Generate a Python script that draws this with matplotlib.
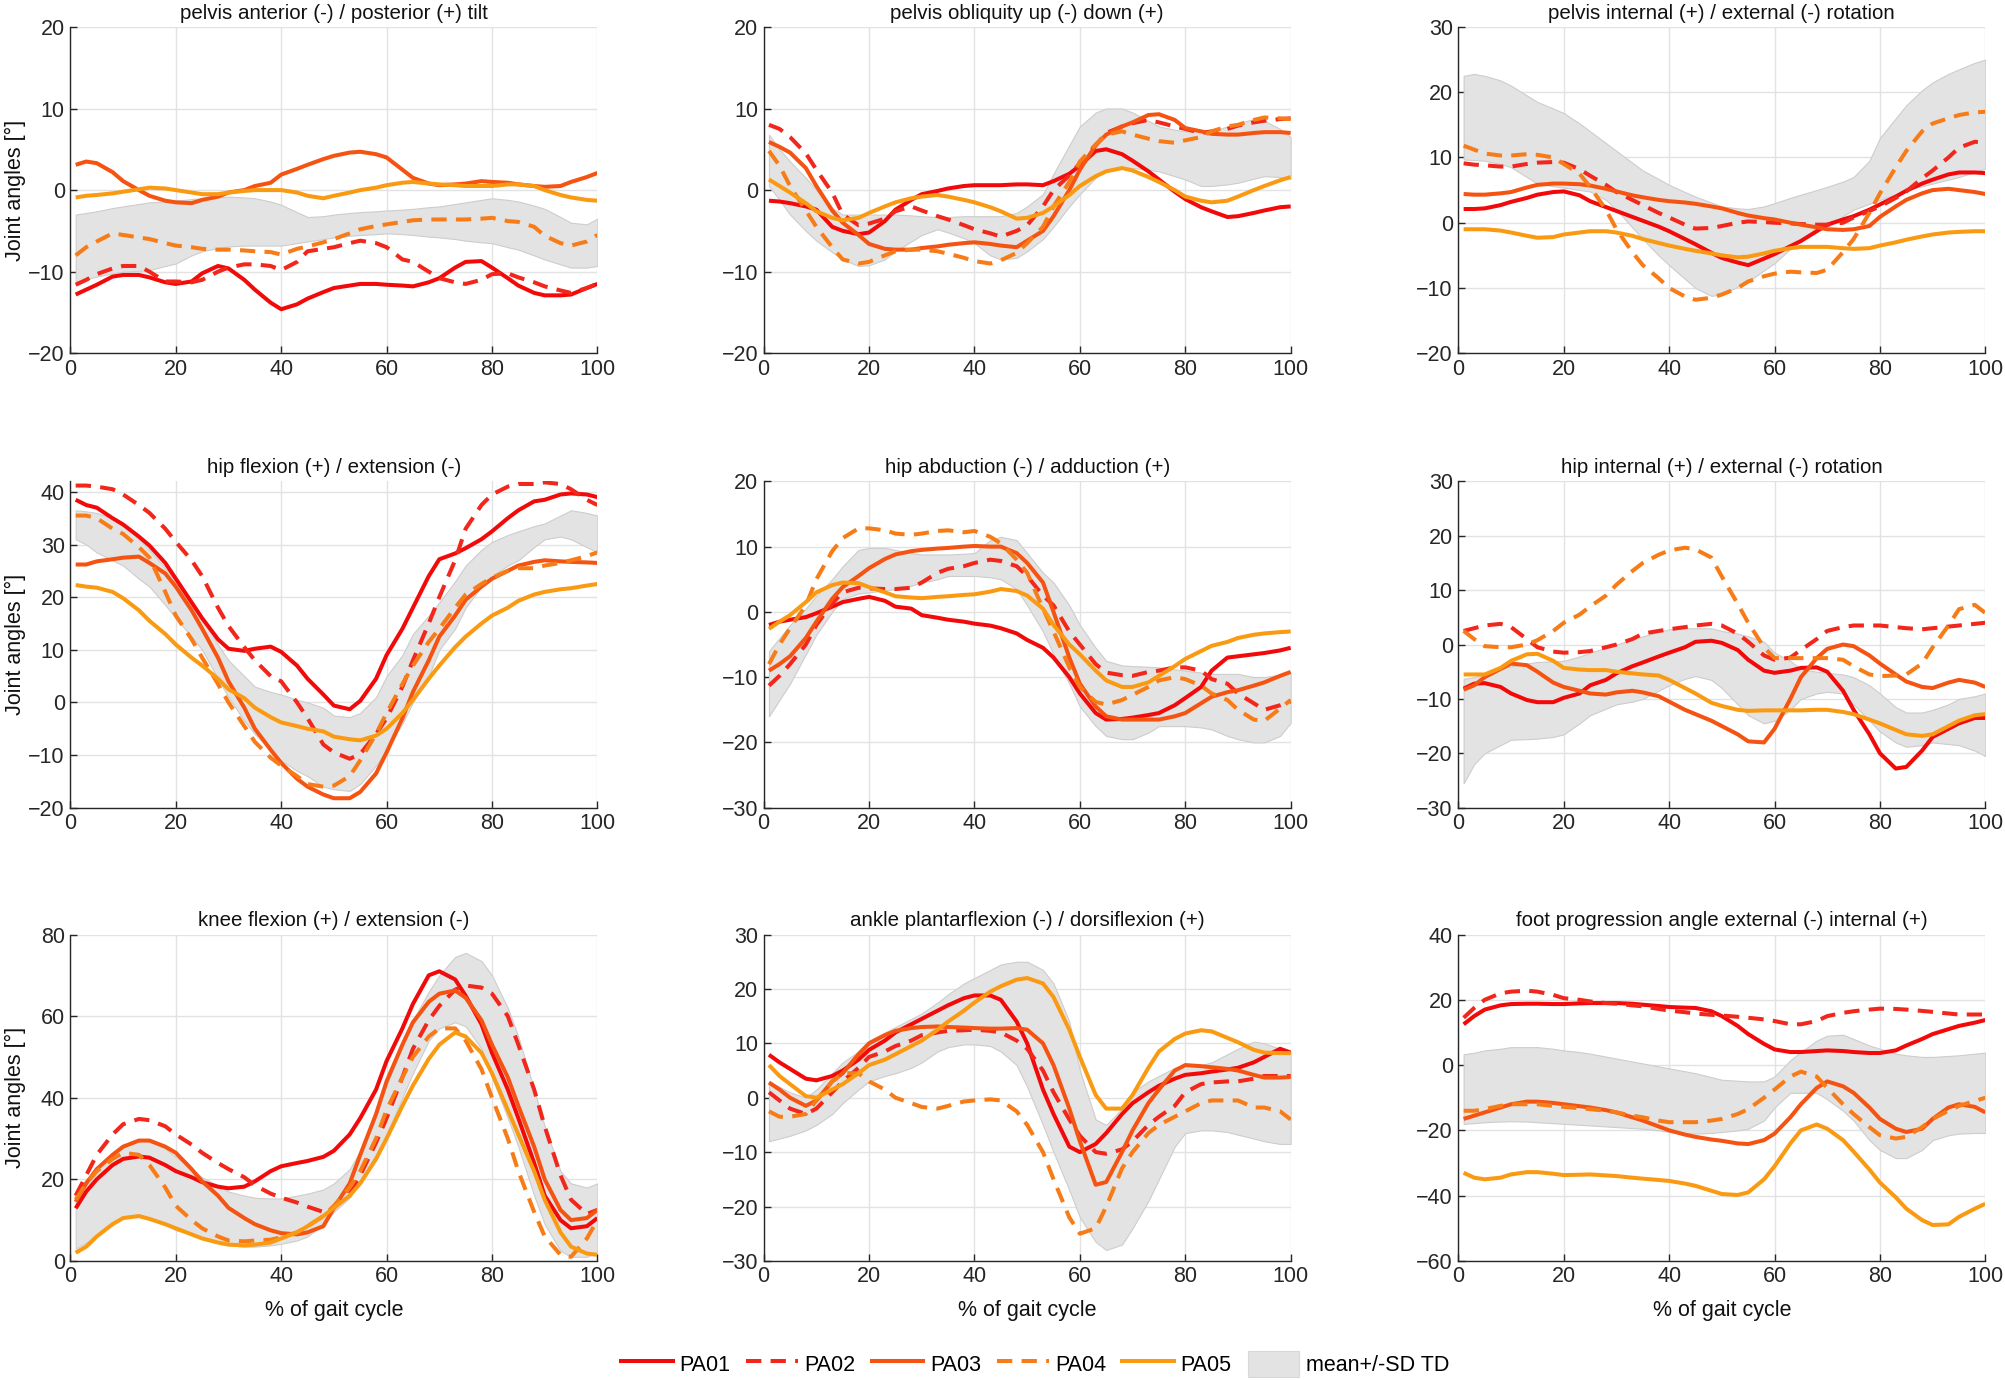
import matplotlib
matplotlib.use("Agg")
import matplotlib.pyplot as plt
from matplotlib.lines import Line2D
from matplotlib.patches import Patch

plt.rcParams['font.family'] = ['Liberation Sans', 'DejaVu Sans']

# % of gait cycle sample positions
X = [1, 3, 5, 8, 10, 13, 15, 18, 20, 23, 25, 28, 30, 33, 35, 38, 40, 43, 45, 48, 50,
     53, 55, 58, 60, 63, 65, 68, 70, 73, 75, 78, 80, 83, 85, 88, 90, 93, 95, 98, 100]

series_names = ["PA01", "PA02", "PA03", "PA04", "PA05"]
band_name = "mean+/-SD TD"

# ---- pelvis anterior / posterior tilt ----
tilt_pa01 = [-12.8,-12.2,-11.6,-10.6,-10.4,-10.4,-10.7,-11.3,-11.5,-11.2,-10.2,-9.3,-9.6,-11.0,-12.2,-13.8,-14.6,-14.0,-13.3,-12.5,-12.0,-11.7,-11.5,-11.5,-11.6,-11.7,-11.8,-11.3,-10.8,-9.5,-8.8,-8.7,-9.5,-10.8,-11.7,-12.6,-12.9,-12.9,-12.8,-12.0,-11.5]
tilt_pa02 = [-11.6,-11.0,-10.3,-9.6,-9.3,-9.3,-10.0,-11.2,-11.2,-11.3,-11.0,-10.0,-9.5,-9.1,-9.1,-9.3,-9.8,-8.8,-7.5,-7.2,-7.0,-6.5,-6.2,-6.5,-7.0,-8.5,-8.8,-10.0,-10.8,-11.3,-11.5,-11.0,-10.3,-10.2,-10.7,-11.3,-11.8,-12.3,-12.6,-12.0,-11.5]
tilt_pa03 = [3.1,3.5,3.3,2.2,1.1,0.0,-0.7,-1.3,-1.5,-1.6,-1.2,-0.8,-0.3,0.0,0.5,0.9,1.9,2.6,3.1,3.8,4.2,4.6,4.7,4.4,4.0,2.5,1.5,0.8,0.6,0.7,0.8,1.1,1.0,0.9,0.7,0.5,0.4,0.5,1.0,1.6,2.1]
tilt_pa04 = [-8.0,-7.0,-6.3,-5.3,-5.5,-5.8,-6.0,-6.5,-6.8,-7.0,-7.2,-7.3,-7.3,-7.4,-7.5,-7.6,-7.9,-7.2,-6.9,-6.4,-6.0,-5.3,-4.8,-4.4,-4.2,-3.9,-3.7,-3.6,-3.6,-3.6,-3.6,-3.5,-3.4,-3.8,-3.9,-4.5,-5.6,-6.5,-6.8,-6.3,-5.5]
tilt_pa05 = [-0.9,-0.7,-0.6,-0.4,-0.2,0.1,0.3,0.2,0.0,-0.3,-0.5,-0.5,-0.3,-0.1,0.0,0.0,0.0,-0.3,-0.7,-1.0,-0.7,-0.3,0.0,0.3,0.6,0.9,1.0,0.8,0.7,0.6,0.5,0.5,0.5,0.7,0.7,0.5,0.0,-0.6,-0.9,-1.2,-1.3]
tilt_hi = [-3.0,-2.8,-2.6,-2.2,-2.0,-1.7,-1.5,-1.4,-1.3,-1.1,-1.0,-0.9,-0.8,-0.9,-1.0,-1.4,-1.8,-2.7,-3.3,-3.2,-3.0,-2.8,-2.7,-2.6,-2.5,-2.4,-2.3,-2.1,-2.0,-1.7,-1.5,-1.2,-1.0,-1.2,-1.4,-1.9,-2.3,-3.3,-4.0,-4.2,-3.5]
tilt_lo = [-11.2,-10.9,-10.6,-10.2,-10.0,-9.9,-9.8,-9.3,-9.0,-8.0,-7.5,-7.1,-6.9,-6.8,-6.8,-6.8,-6.8,-6.5,-6.3,-6.0,-5.8,-5.6,-5.5,-5.4,-5.3,-5.4,-5.5,-5.7,-5.8,-6.0,-6.2,-6.4,-6.5,-7.0,-7.3,-8.0,-8.5,-9.1,-9.5,-9.5,-9.3]

# ---- pelvis obliquity ----
obl_pa01 = [-1.3,-1.4,-1.6,-2.0,-2.4,-4.5,-5.0,-5.4,-5.2,-3.8,-2.4,-1.2,-0.5,-0.1,0.2,0.5,0.6,0.6,0.6,0.7,0.7,0.6,1.1,2.0,3.0,4.8,5.0,4.4,3.6,2.3,1.3,-0.2,-1.1,-2.1,-2.6,-3.3,-3.2,-2.8,-2.5,-2.1,-2.0]
obl_pa02 = [8.0,7.5,6.5,4.5,2.5,-0.3,-3.0,-4.3,-4.1,-3.5,-2.6,-2.0,-2.5,-3.2,-3.6,-4.3,-4.8,-5.3,-5.7,-5.0,-4.3,-2.0,0.0,1.8,3.3,5.5,7.0,7.8,8.2,8.6,8.3,7.8,7.5,7.0,7.2,7.5,7.9,8.3,8.5,8.7,8.8]
obl_pa03 = [5.9,5.3,4.6,2.7,0.5,-2.5,-4.0,-5.5,-6.6,-7.2,-7.3,-7.3,-7.1,-6.9,-6.7,-6.5,-6.4,-6.6,-6.8,-7.0,-6.2,-5.0,-3.2,0.0,2.5,5.5,6.8,7.8,8.3,9.2,9.3,8.6,7.6,7.2,6.9,6.8,6.8,7.0,7.1,7.1,7.0]
obl_pa04 = [4.8,3.0,0.5,-2.5,-4.5,-7.0,-8.5,-9.0,-8.8,-8.0,-7.5,-7.3,-7.3,-7.5,-7.8,-8.3,-8.7,-9.0,-8.6,-7.7,-6.5,-4.5,-2.0,1.0,3.5,5.6,6.8,7.2,6.8,6.3,6.0,5.8,6.1,6.5,7.2,7.8,8.0,8.6,8.9,8.8,8.7]
obl_pa05 = [1.3,0.5,-0.3,-1.6,-2.6,-3.4,-3.7,-3.4,-2.8,-2.0,-1.5,-1.0,-0.8,-0.6,-0.8,-1.2,-1.5,-2.1,-2.6,-3.5,-3.4,-2.8,-2.0,-0.6,0.5,1.7,2.3,2.7,2.4,1.6,1.0,0.0,-0.8,-1.3,-1.5,-1.3,-0.8,0.0,0.5,1.2,1.6]
obl_hi = [6.8,5.0,3.5,1.5,0.0,-2.2,-3.0,-3.0,-3.0,-3.0,-3.0,-3.1,-3.2,-3.3,-3.3,-3.2,-3.2,-3.2,-3.2,-2.8,-2.0,-0.5,2.0,5.5,7.8,9.5,10.0,10.0,9.5,8.5,7.8,7.4,7.2,7.2,7.2,7.8,8.2,8.7,8.5,7.5,6.5]
obl_lo = [0.5,-1.2,-3.0,-5.0,-6.2,-7.6,-8.5,-9.3,-9.2,-8.5,-7.5,-6.3,-5.5,-4.8,-5.2,-5.9,-6.5,-8.0,-8.5,-8.3,-7.5,-6.0,-4.5,-2.0,-0.5,1.5,2.5,2.8,2.7,2.5,2.3,1.7,1.3,0.5,0.5,0.7,0.9,1.4,1.7,1.6,1.4]

# ---- pelvis rotation ----
prot_pa01 = [2.1,2.1,2.2,2.7,3.2,3.8,4.3,4.7,4.8,4.2,3.3,2.4,1.8,0.9,0.3,-0.6,-1.3,-2.5,-3.3,-4.6,-5.4,-6.1,-6.5,-5.5,-4.8,-3.6,-2.8,-1.3,-0.3,0.5,1.0,2.0,2.8,4.0,4.9,6.0,6.6,7.4,7.7,7.7,7.6]
prot_pa02 = [9.1,8.9,8.8,8.6,8.6,9.0,9.2,9.3,9.2,8.2,7.2,5.8,4.7,3.5,2.7,1.5,0.8,-0.3,-0.9,-0.8,-0.5,0.0,0.2,0.1,0.0,-0.1,-0.2,-0.3,-0.3,0.0,0.8,1.8,2.5,3.8,4.8,6.8,8.0,10.0,11.5,12.4,12.3]
prot_pa03 = [4.4,4.3,4.3,4.5,4.7,5.4,5.8,6.0,6.0,5.9,5.7,5.2,4.8,4.2,3.9,3.5,3.3,3.1,2.9,2.5,2.2,1.5,1.1,0.7,0.5,0.0,-0.3,-0.7,-1.0,-1.1,-1.0,-0.5,0.9,2.5,3.5,4.5,5.0,5.2,5.0,4.7,4.4]
prot_pa04 = [11.8,11.2,10.6,10.3,10.3,10.5,10.4,10.0,9.0,7.5,5.5,2.0,-1.0,-4.5,-6.5,-8.5,-10.0,-11.3,-11.8,-11.5,-11.0,-10.0,-9.0,-8.2,-7.8,-7.5,-7.6,-7.7,-7.2,-4.5,-2.5,1.5,4.5,8.5,11.0,14.0,15.2,16.0,16.5,16.9,17.0]
prot_pa05 = [-1.0,-1.0,-1.0,-1.2,-1.5,-2.0,-2.3,-2.2,-1.8,-1.5,-1.3,-1.3,-1.5,-2.0,-2.5,-3.1,-3.5,-4.0,-4.3,-4.7,-5.0,-5.3,-5.2,-4.7,-4.3,-3.9,-3.7,-3.7,-3.7,-3.9,-4.0,-3.9,-3.5,-3.0,-2.6,-2.1,-1.8,-1.5,-1.4,-1.3,-1.3]
prot_hi = [22.5,22.8,22.5,21.8,21.0,19.5,18.5,17.5,16.8,15.2,14.0,12.2,11.0,9.2,8.0,6.7,5.8,4.7,4.0,3.1,2.5,2.2,2.1,2.5,3.0,3.8,4.3,5.0,5.5,6.3,7.0,9.5,13.0,16.0,18.0,20.3,21.5,22.8,23.5,24.5,25.0]
prot_lo = [9.7,9.6,9.5,9.0,8.5,7.0,6.0,5.6,5.4,5.0,4.8,3.5,2.0,-0.7,-2.5,-5.0,-6.5,-8.6,-10.0,-11.2,-11.0,-9.8,-9.0,-7.3,-6.2,-4.0,-2.5,-1.3,-0.5,1.0,2.0,2.9,3.5,4.4,5.0,5.6,6.0,6.6,7.0,7.8,8.3]

# ---- hip flexion / extension ----
hflex_pa01 = [38.5,37.5,37.0,35.0,33.8,31.5,29.8,26.5,23.5,19.0,16.0,12.0,10.2,9.8,10.2,10.6,9.6,7.0,4.5,1.5,-0.6,-1.3,0.3,4.5,9.0,14.0,18.0,24.0,27.2,28.3,29.3,31.0,32.5,35.0,36.5,38.2,38.5,39.5,39.7,39.5,39.0]
hflex_pa02 = [41.2,41.2,41.0,40.5,39.5,37.5,36.0,33.0,30.5,27.0,24.0,18.0,14.5,10.5,8.0,5.0,4.0,0.0,-3.0,-8.0,-9.5,-10.7,-9.8,-6.0,-3.0,3.0,8.0,15.0,20.0,27.0,33.0,37.5,39.5,41.0,41.5,41.5,41.8,41.5,40.5,38.5,37.5]
hflex_pa03 = [26.2,26.2,26.8,27.2,27.5,27.7,26.5,24.5,22.0,17.5,14.0,8.5,4.0,-1.0,-5.0,-9.0,-11.5,-14.5,-16.0,-17.5,-18.2,-18.2,-17.0,-13.5,-9.5,-3.0,2.0,8.0,12.5,16.5,19.5,22.0,23.5,25.0,26.0,26.7,27.0,26.8,26.7,26.6,26.5]
hflex_pa04 = [35.5,35.5,35.0,33.0,32.0,29.5,27.5,21.0,16.5,12.0,8.5,3.5,0.0,-4.5,-7.5,-10.5,-12.0,-14.0,-15.5,-16.0,-15.8,-14.0,-11.0,-6.0,-2.0,3.5,7.0,11.5,14.0,18.0,20.5,22.5,23.7,25.0,25.5,25.5,26.0,26.5,27.0,27.8,28.5]
hflex_pa05 = [22.3,22.0,21.8,21.0,19.8,17.5,15.5,13.0,11.0,8.5,7.0,4.5,2.5,0.8,-1.0,-2.8,-3.8,-4.5,-5.0,-5.5,-6.5,-7.0,-7.2,-6.3,-5.0,-2.0,0.5,4.5,7.0,10.5,12.5,15.0,16.5,18.0,19.3,20.5,21.0,21.5,21.7,22.2,22.5]
hflex_hi = [36.5,36.3,36.0,35.0,34.0,31.0,29.0,25.5,23.0,19.0,16.0,11.0,8.0,5.0,3.0,2.0,1.5,0.5,0.0,-1.0,-2.5,-2.8,-2.0,1.0,5.0,9.0,13.0,16.5,19.0,23.0,26.0,29.0,30.5,31.8,32.5,33.5,34.0,35.5,36.5,36.0,35.5]
hflex_lo = [31.0,30.0,28.5,27.0,26.0,23.5,22.0,18.5,16.0,12.5,10.0,4.5,1.0,-3.5,-6.0,-9.0,-11.0,-13.0,-14.0,-16.0,-16.5,-16.8,-15.5,-12.0,-9.0,-4.0,0.0,5.0,10.0,14.0,18.0,22.0,24.0,26.0,27.0,29.5,31.0,31.5,31.0,29.5,28.5]

# ---- hip abduction / adduction ----
habd_pa01 = [-2.0,-1.5,-1.2,-0.8,-0.2,0.8,1.5,2.0,2.3,1.7,0.8,0.5,-0.5,-0.9,-1.2,-1.5,-1.8,-2.1,-2.5,-3.3,-4.3,-5.5,-7.0,-10.0,-12.5,-15.5,-16.5,-16.4,-16.2,-15.8,-15.5,-14.3,-13.2,-11.5,-9.0,-7.0,-6.8,-6.5,-6.3,-5.9,-5.5]
habd_pa02 = [-11.3,-9.8,-8.0,-5.0,-2.0,1.3,3.0,3.7,3.6,3.5,3.5,3.7,4.5,6.0,6.6,7.0,7.5,8.0,7.8,7.0,5.5,2.5,1.0,-3.0,-5.0,-8.0,-9.3,-9.7,-9.8,-9.2,-9.0,-8.5,-8.5,-9.0,-10.3,-11.0,-12.5,-14.0,-15.0,-14.3,-13.7]
habd_pa03 = [-9.0,-8.0,-6.8,-4.0,-1.5,2.0,3.8,5.5,6.7,8.1,8.8,9.3,9.5,9.7,9.8,10.0,10.1,10.0,10.0,9.0,7.5,4.5,0.0,-7.0,-11.0,-14.5,-16.0,-16.5,-16.5,-16.5,-16.5,-16.0,-15.5,-14.0,-13.0,-12.3,-12.0,-11.3,-10.8,-9.8,-9.2]
habd_pa04 = [-8.0,-5.0,-2.5,1.0,5.0,9.3,11.3,12.8,12.8,12.5,12.0,11.8,12.0,12.4,12.5,12.2,12.4,11.5,10.5,8.0,6.0,0.5,-3.0,-8.5,-11.5,-13.8,-14.2,-13.5,-12.7,-11.5,-10.5,-10.0,-10.3,-11.3,-12.5,-13.5,-15.0,-16.5,-16.7,-14.8,-13.5]
habd_pa05 = [-2.6,-1.5,-0.5,1.5,3.0,4.1,4.5,4.4,3.8,3.0,2.4,2.2,2.1,2.3,2.4,2.6,2.7,3.1,3.5,3.2,2.5,0.5,-2.0,-5.0,-6.5,-9.0,-10.5,-11.5,-11.5,-10.8,-9.8,-8.3,-7.2,-6.0,-5.2,-4.6,-4.0,-3.5,-3.3,-3.1,-3.0]
habd_hi = [-6.0,-4.0,-2.0,0.5,2.5,5.0,7.0,9.5,9.8,9.8,9.5,9.0,8.8,8.8,8.8,8.9,9.0,11.0,11.5,11.0,9.0,6.0,4.5,1.0,-2.0,-5.5,-7.5,-8.2,-8.3,-8.4,-8.5,-8.8,-9.0,-9.3,-9.5,-9.5,-9.5,-10.0,-10.0,-9.6,-9.3]
habd_lo = [-16.0,-13.5,-11.0,-6.5,-3.5,0.0,2.0,2.8,3.0,3.3,3.5,4.0,4.5,5.0,5.5,5.5,5.5,5.3,5.0,3.5,1.0,-3.0,-6.5,-11.0,-14.5,-17.5,-19.0,-19.5,-19.5,-18.5,-17.5,-17.5,-17.5,-17.7,-18.0,-19.0,-19.5,-20.0,-20.0,-19.0,-17.0]

# ---- hip internal / external rotation ----
hrot_pa01 = [-8.1,-7.2,-7.1,-7.8,-9.0,-10.2,-10.6,-10.6,-9.8,-9.0,-7.5,-6.5,-5.3,-4.0,-3.3,-2.2,-1.5,-0.5,0.5,0.7,0.3,-1.0,-2.8,-4.8,-5.2,-4.8,-4.3,-4.2,-5.0,-8.5,-12.0,-16.5,-20.0,-22.8,-22.5,-19.5,-17.0,-15.5,-14.5,-13.5,-13.5]
hrot_pa02 = [2.5,3.0,3.5,3.8,3.2,1.0,-0.5,-1.3,-1.5,-1.4,-1.2,-0.5,0.0,1.0,2.0,2.5,2.8,3.2,3.5,3.8,3.5,2.0,0.5,-2.0,-2.8,-2.4,-1.0,1.0,2.5,3.2,3.5,3.5,3.5,3.2,3.0,2.8,3.0,3.3,3.5,3.8,4.0]
hrot_pa03 = [-8.3,-7.5,-6.0,-4.5,-3.5,-3.8,-5.0,-7.0,-7.8,-8.5,-9.0,-9.2,-8.8,-8.5,-8.8,-9.5,-10.5,-12.0,-12.8,-14.0,-15.0,-16.5,-17.8,-18.0,-15.5,-10.0,-6.0,-2.5,-0.8,0.0,-0.3,-2.0,-3.5,-5.5,-6.8,-7.8,-8.0,-7.0,-6.5,-7.0,-7.8]
hrot_pa04 = [2.5,1.0,-0.3,-0.5,-0.5,0.0,0.8,2.5,4.0,5.5,7.0,9.0,11.0,13.5,15.0,16.5,17.3,17.8,17.5,16.0,12.5,7.5,4.0,-0.5,-2.5,-2.5,-2.5,-2.5,-2.5,-2.8,-4.0,-5.5,-5.8,-5.7,-5.5,-3.5,-0.5,3.5,6.5,7.3,5.8]
hrot_pa05 = [-5.5,-5.5,-5.5,-4.3,-3.0,-1.8,-1.7,-3.0,-4.3,-4.6,-4.7,-4.7,-5.0,-5.3,-5.5,-5.7,-6.5,-8.0,-9.0,-10.7,-11.3,-12.0,-12.2,-12.1,-12.1,-12.1,-12.1,-12.0,-12.0,-12.4,-12.8,-13.8,-14.5,-15.7,-16.5,-16.8,-16.5,-15.0,-14.0,-13.0,-12.8]
hrot_hi = [-6.3,-6.0,-5.5,-4.5,-4.0,-3.5,-3.2,-3.1,-3.0,-2.2,-1.5,-0.6,0.0,0.9,1.5,2.3,2.8,3.0,3.0,3.0,2.5,2.0,1.5,0.5,-1.5,-3.0,-4.5,-5.0,-5.2,-5.5,-6.0,-7.5,-9.0,-11.5,-12.5,-12.5,-12.0,-11.0,-10.0,-9.5,-9.0]
hrot_lo = [-25.5,-22.0,-20.0,-18.5,-17.5,-17.4,-17.3,-17.0,-16.5,-14.5,-13.0,-11.8,-11.0,-10.5,-10.0,-8.5,-7.5,-6.3,-5.8,-6.5,-8.0,-11.0,-13.0,-14.5,-14.0,-12.0,-10.0,-9.0,-8.7,-9.0,-11.0,-14.0,-16.0,-18.0,-18.8,-18.5,-18.0,-18.3,-18.5,-19.5,-20.5]

# ---- knee flexion / extension ----
knee_pa01 = [12.9,17.0,20.0,23.5,25.0,25.6,25.3,23.5,22.0,20.5,19.3,18.2,17.8,18.2,19.5,22.0,23.2,24.0,24.5,25.5,27.0,31.0,35.0,42.0,49.0,57.0,63.0,70.0,71.0,69.0,65.0,58.0,51.0,42.0,35.0,24.0,16.0,10.0,8.0,8.5,10.5]
knee_pa02 = [16.0,21.0,26.0,31.0,33.5,34.8,34.5,33.0,31.0,28.5,26.5,24.0,22.5,20.5,18.5,16.5,15.5,14.3,13.3,12.0,13.0,16.5,21.0,29.0,35.0,45.0,52.0,59.0,62.5,66.5,67.5,67.0,65.5,60.0,53.0,42.0,33.0,21.0,15.0,11.5,12.5]
knee_pa03 = [14.5,19.0,22.5,26.0,28.0,29.5,29.5,28.0,26.5,22.5,19.5,16.0,13.0,10.5,9.0,7.5,6.8,6.5,7.0,8.5,13.0,19.0,26.0,36.0,44.0,53.0,58.5,63.5,65.5,66.3,64.5,59.0,53.0,45.0,38.0,28.0,20.0,12.5,10.0,10.5,12.5]
knee_pa04 = [15.0,19.0,22.0,25.0,26.5,26.0,23.5,18.0,13.5,10.0,8.0,6.0,5.0,4.8,5.0,5.2,5.8,7.0,8.5,11.0,13.5,18.0,22.0,30.0,37.0,45.0,50.0,55.0,57.0,57.0,54.0,47.0,40.0,30.0,22.0,12.0,6.0,1.5,1.0,5.5,10.0]
knee_pa05 = [2.0,3.5,6.0,9.0,10.5,11.0,10.3,9.0,8.0,6.5,5.5,4.5,4.0,3.8,4.0,4.5,5.5,7.0,8.5,11.0,13.0,16.0,19.0,25.0,30.0,38.0,43.0,49.5,53.0,56.0,55.0,51.0,46.0,37.0,31.0,22.0,15.0,7.0,3.5,1.8,1.5]
knee_hi = [17.0,20.0,22.5,26.5,28.0,29.5,29.5,27.5,25.5,22.5,20.5,18.5,17.0,16.0,15.5,15.3,15.3,16.0,16.5,17.5,19.0,22.5,27.0,36.0,43.0,53.0,59.0,66.0,70.0,74.5,75.5,73.5,70.0,62.0,55.0,42.0,33.0,22.0,19.0,18.0,19.0]
knee_lo = [3.0,4.5,6.0,9.0,10.8,11.0,10.5,9.0,7.5,6.5,5.5,4.5,3.8,3.5,3.5,3.8,4.2,5.0,6.0,9.0,12.0,15.5,19.5,26.0,31.0,40.0,46.0,54.0,57.0,58.5,57.5,52.0,45.0,35.0,28.0,16.0,9.0,2.5,1.0,1.0,2.0]

# ---- ankle plantarflexion / dorsiflexion ----
ankle_pa01 = [7.9,6.5,5.3,3.5,3.2,4.0,5.0,7.0,8.8,10.5,12.0,13.5,14.5,16.0,17.0,18.3,18.8,18.8,18.0,14.0,10.0,1.5,-3.0,-9.0,-10.0,-8.5,-6.5,-3.0,-1.0,1.0,2.2,3.5,4.2,4.5,4.8,5.2,5.5,6.5,7.5,9.0,8.3]
ankle_pa02 = [1.0,-0.5,-2.0,-3.0,-2.0,1.0,3.0,5.5,7.5,8.5,9.5,10.5,11.5,12.0,12.3,12.4,12.5,12.3,12.0,10.5,9.0,5.0,1.0,-4.0,-7.0,-10.0,-10.3,-9.5,-8.0,-5.0,-3.5,-1.5,1.0,2.5,2.8,3.0,3.0,3.5,4.0,4.0,4.0]
ankle_pa03 = [2.8,1.5,0.0,-1.5,-0.5,3.0,4.5,8.0,10.0,11.5,12.3,12.8,13.0,13.1,13.0,12.9,12.8,12.7,12.7,12.8,12.5,10.0,6.0,-2.0,-8.0,-16.0,-15.5,-10.0,-6.0,-1.0,1.5,5.0,6.0,5.8,5.6,5.3,5.0,4.2,3.7,3.7,3.8]
ankle_pa04 = [-2.5,-3.5,-3.5,-3.0,-0.5,3.0,4.5,4.5,3.0,1.5,0.0,-1.0,-1.7,-2.0,-1.5,-0.7,-0.5,-0.3,-0.5,-2.5,-5.0,-10.0,-15.0,-22.0,-25.0,-24.0,-20.0,-13.0,-10.0,-6.5,-5.0,-3.5,-2.5,-1.0,-0.5,-0.5,-0.5,-1.8,-1.8,-2.5,-4.0]
ankle_pa05 = [6.0,4.0,2.5,0.3,0.0,1.5,2.5,4.5,6.0,7.0,8.0,9.5,10.5,12.5,14.0,16.0,17.5,19.5,20.5,21.7,22.0,21.0,18.5,12.5,7.5,0.5,-2.0,-2.0,0.5,5.5,8.5,10.8,11.8,12.4,12.2,11.0,10.2,8.8,8.3,8.2,8.2]
ankle_hi = [3.0,2.0,1.0,0.0,1.5,4.5,6.5,8.5,10.5,12.0,13.0,14.5,15.5,17.5,19.0,21.0,22.0,23.5,24.5,25.0,25.0,23.5,21.0,14.0,5.0,-4.0,-5.0,-2.0,1.0,3.0,4.0,5.5,6.0,6.0,6.5,8.0,9.0,10.3,10.0,9.0,8.5]
ankle_lo = [-8.0,-7.5,-7.0,-6.0,-5.0,-3.0,-1.0,1.5,3.0,4.0,4.5,5.5,6.5,8.5,9.3,9.8,9.8,9.5,8.5,6.0,2.0,-5.0,-10.0,-17.0,-22.0,-26.5,-28.0,-27.0,-24.0,-19.0,-15.0,-9.0,-6.5,-6.0,-6.0,-6.3,-6.8,-7.5,-8.0,-8.5,-8.5]

# ---- foot progression angle ----
foot_pa01 = [12.5,15.0,17.0,18.3,18.7,18.8,18.8,18.7,18.7,18.9,19.0,19.0,19.0,18.8,18.5,18.1,17.8,17.6,17.5,16.5,15.0,12.0,9.5,6.5,4.8,4.0,4.0,4.3,4.5,4.3,4.0,3.7,3.7,4.5,6.0,8.0,9.5,11.0,12.0,13.0,13.8]
foot_pa02 = [14.5,17.5,20.0,22.0,22.5,22.8,22.5,21.5,20.5,20.0,19.5,19.0,18.8,18.3,18.0,17.2,16.7,16.2,15.8,15.4,15.2,14.8,14.5,14.0,13.5,12.5,12.5,13.5,15.0,16.0,16.5,17.0,17.3,17.2,17.0,16.6,16.3,15.8,15.5,15.5,15.5]
foot_pa03 = [-16.5,-15.5,-14.5,-13.0,-12.0,-11.2,-11.2,-11.6,-12.0,-12.6,-13.0,-13.8,-14.5,-16.0,-17.0,-18.8,-20.0,-21.3,-22.0,-22.8,-23.2,-24.0,-24.2,-23.0,-21.0,-16.0,-12.0,-7.0,-5.0,-6.5,-8.5,-13.0,-16.5,-19.5,-20.5,-19.5,-16.5,-13.0,-12.0,-12.8,-14.5]
foot_pa04 = [-14.0,-14.0,-13.5,-12.5,-12.0,-12.0,-12.0,-12.5,-12.8,-13.2,-13.5,-14.0,-14.5,-15.5,-16.0,-17.0,-17.5,-17.5,-17.5,-17.0,-16.5,-15.0,-13.5,-10.0,-7.5,-3.5,-2.0,-3.5,-7.0,-12.0,-15.0,-19.0,-21.5,-22.5,-22.0,-19.0,-16.5,-14.0,-12.5,-11.0,-10.0]
foot_pa05 = [-33.0,-34.5,-35.0,-34.5,-33.5,-32.8,-32.8,-33.3,-33.7,-33.6,-33.5,-33.8,-34.0,-34.5,-34.8,-35.2,-35.5,-36.3,-37.0,-38.5,-39.5,-39.8,-39.0,-35.0,-31.0,-24.0,-20.0,-18.2,-19.5,-23.0,-26.5,-32.0,-36.0,-40.5,-44.0,-47.5,-49.0,-48.8,-46.5,-44.0,-42.5]
foot_hi = [3.3,3.8,4.5,5.0,5.5,5.5,5.5,5.0,4.5,4.0,3.5,2.6,2.0,1.1,0.5,-0.4,-1.0,-1.9,-2.5,-3.7,-4.5,-4.8,-5.0,-5.0,-3.5,1.5,4.0,7.5,9.0,9.3,8.0,6.0,5.0,3.5,3.0,2.5,2.5,2.8,3.0,3.5,3.8]
foot_lo = [-18.0,-17.8,-17.5,-17.3,-17.2,-17.3,-17.5,-17.8,-18.0,-18.3,-18.5,-18.8,-19.0,-19.3,-19.5,-20.0,-20.5,-20.8,-21.0,-20.8,-20.5,-20.0,-19.5,-17.0,-13.0,-8.5,-8.5,-8.5,-10.5,-14.0,-17.0,-23.0,-26.0,-28.5,-28.5,-26.0,-23.0,-21.5,-21.0,-20.8,-20.8]

titles = ["pelvis anterior (-) / posterior (+) tilt",
          "pelvis obliquity up (-) down (+)",
          "pelvis internal (+) / external (-) rotation",
          "hip flexion (+) / extension (-)",
          "hip abduction (-) / adduction (+)",
          "hip internal (+) / external (-) rotation",
          "knee flexion (+) / extension (-)",
          "ankle plantarflexion (-) / dorsiflexion (+)",
          "foot progression angle external (-) internal (+)"]
ylims = [(-20, 20), (-20, 20), (-20, 30), (-20, 42), (-30, 20), (-30, 30), (0, 80), (-30, 30), (-60, 40)]
yticks = [[-20, -10, 0, 10, 20], [-20, -10, 0, 10, 20], [-20, -10, 0, 10, 20, 30],
          [-20, -10, 0, 10, 20, 30, 40], [-30, -20, -10, 0, 10, 20], [-30, -20, -10, 0, 10, 20, 30],
          [0, 20, 40, 60, 80], [-30, -20, -10, 0, 10, 20, 30], [-60, -40, -20, 0, 20, 40]]
xticks = [0, 20, 40, 60, 80, 100]

panels = [
    (tilt_pa01, tilt_pa02, tilt_pa03, tilt_pa04, tilt_pa05, tilt_hi, tilt_lo),
    (obl_pa01, obl_pa02, obl_pa03, obl_pa04, obl_pa05, obl_hi, obl_lo),
    (prot_pa01, prot_pa02, prot_pa03, prot_pa04, prot_pa05, prot_hi, prot_lo),
    (hflex_pa01, hflex_pa02, hflex_pa03, hflex_pa04, hflex_pa05, hflex_hi, hflex_lo),
    (habd_pa01, habd_pa02, habd_pa03, habd_pa04, habd_pa05, habd_hi, habd_lo),
    (hrot_pa01, hrot_pa02, hrot_pa03, hrot_pa04, hrot_pa05, hrot_hi, hrot_lo),
    (knee_pa01, knee_pa02, knee_pa03, knee_pa04, knee_pa05, knee_hi, knee_lo),
    (ankle_pa01, ankle_pa02, ankle_pa03, ankle_pa04, ankle_pa05, ankle_hi, ankle_lo),
    (foot_pa01, foot_pa02, foot_pa03, foot_pa04, foot_pa05, foot_hi, foot_lo),
]

colors = ["#f20a0a", "#f2261a", "#f55312", "#f77c18", "#fa9a12"]
styles = ["-", (0, (3.8, 2.3)), "-", (0, (3.8, 2.3)), "-"]
band_face = "#e3e3e3"
band_edge = "#cdcdcd"
axis_col = "#262626"
FS = 15.5
FS_TITLE = 14.8

fig = plt.figure(figsize=(20.06, 13.8), dpi=100)
col_left = [0.0351, 0.3807, 0.7270]
row_bottom = [0.7440, 0.4147, 0.0863]
W, H = 0.2627, 0.2365

for i, data in enumerate(panels):
    r, c = divmod(i, 3)
    ax = fig.add_axes([col_left[c], row_bottom[r], W, H])
    hi, lo = data[5], data[6]
    ax.fill_between(X, lo, hi, facecolor=band_face, edgecolor=band_edge, linewidth=0.8, zorder=1)
    for k in range(5):
        ax.plot(X, data[k], color=colors[k], linestyle=styles[k], linewidth=2.9,
                solid_capstyle="butt", dash_capstyle="butt", zorder=3 + k)
    ax.set_xlim(0, 100)
    ax.set_ylim(*ylims[i])
    ax.set_xticks(xticks)
    ax.set_yticks(yticks[i])
    ax.grid(True, color="#e2e2e2", linewidth=1.0, zorder=0)
    ax.set_axisbelow(True)
    for s in ("top", "right"):
        ax.spines[s].set_visible(False)
    for s in ("left", "bottom"):
        ax.spines[s].set_color(axis_col)
        ax.spines[s].set_linewidth(1.0)
    ax.tick_params(direction="in", length=5, width=1.0, colors=axis_col,
                   labelsize=FS, labelcolor=axis_col, pad=4)
    ax.set_title(titles[i], fontsize=FS_TITLE, color="#111111", pad=6)
    if c == 0:
        ax.set_ylabel("Joint angles [°]", fontsize=FS, color="#111111")
        ax.yaxis.set_label_coords(-0.085, 0.5)
    if r == 2:
        ax.set_xlabel("% of gait cycle", fontsize=FS, color="#111111", labelpad=9)

handles = [Line2D([0], [0], color=colors[k], linestyle=styles[k], linewidth=2.9) for k in range(5)]
handles.append(Patch(facecolor=band_face, edgecolor="#d8d8d8", linewidth=0.8))
labels = series_names + [band_name]
fig.legend(handles, labels, loc="center", bbox_to_anchor=(0.516, 0.0115), ncol=6,
           frameon=False, fontsize=FS, handlelength=2.4, handleheight=1.5,
           handletextpad=0.3, columnspacing=0.75, borderaxespad=0)

fig.savefig("out.png", dpi=100)
